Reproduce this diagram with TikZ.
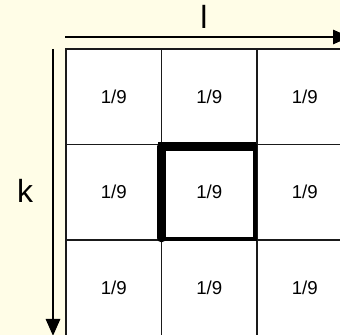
\documentclass[tikz,border=0pt]{standalone}
\usepackage{fontspec}
\setmainfont{Liberation Sans}
\usetikzlibrary{arrows.meta}
\definecolor{KBack}{HTML}{FFFDE7}
\definecolor{KGrid}{HTML}{1A1A1A}

\begin{document}
\begin{tikzpicture}[x=0.75pt,y=-0.75pt,
  cell/.style={draw=KGrid,line width=0.8pt,fill=white,minimum width=71.6pt,minimum height=71.6pt,inner sep=0pt,font=\fontsize{14}{16}\selectfont},
  axis/.style={line width=2.2pt,-{Triangle[length=12.75pt,width=10.5pt]}},
  axislabel/.style={inner sep=0pt,font=\fontsize{24}{28}\selectfont}]
\path[use as bounding box] (0,0) rectangle (340,335);
\clip (0,0) rectangle (340,335);
\fill[KBack] (0,0) rectangle (340,335);
\foreach \r in {1,2,3}
  \foreach \c in {1,2,3}
    \node[cell] (cell\r\c) at ({66+95.5*(\c-0.5)},{49+95.5*(\r-0.5)}) {1/9};
\draw[line width=3pt] (161.5,146) rectangle (255,239);
\draw[line width=6.5pt,line cap=round] (161.5,238) -- (161.5,146.5);
\draw[line width=6.5pt] (158,146.5) -- (256,146.5);
\coordinate (lstart) at (65,37);
\coordinate (lend) at (350,37);
\coordinate (kstart) at (53,49);
\coordinate (kend) at (53,336);
\draw[axis] (lstart) -- (lend);
\draw[axis] (kstart) -- (kend);
\node[axislabel] (llabel) at (204,17) {l};
\node[axislabel] (klabel) at (25,191) {k};
\end{tikzpicture}
\end{document}
